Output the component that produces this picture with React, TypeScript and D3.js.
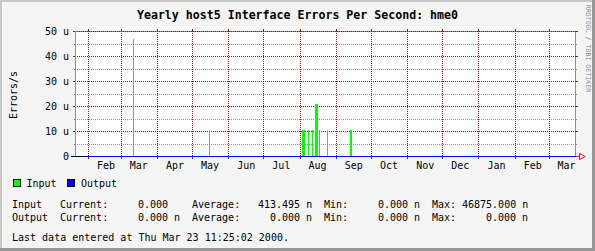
import React from "react";
import * as d3 from "d3";

// ---- data ----
const timeStart = new Date(Date.UTC(1999, 0, 20, 11, 0));
const timeEnd = new Date(Date.UTC(2000, 2, 23, 4, 17));
const dataStart = new Date(Date.UTC(1999, 1, 1));

const inputDates = [
  "1999-03-11", "1999-05-15", "1999-08-03", "1999-08-04", "1999-08-08",
  "1999-08-11", "1999-08-14", "1999-08-15", "1999-08-17", "1999-08-24", "1999-09-13",
];
const inputValues = [
  46.875e-6, 10.4167e-6, 10.4167e-6, 10.4167e-6, 10.4167e-6,
  10.4167e-6, 20.8333e-6, 20.8333e-6, 10.4167e-6, 10.4167e-6, 10.4167e-6,
];
const outputValue = 0;

const yMajorTicks = [0, 10e-6, 20e-6, 30e-6, 40e-6, 50e-6];
const yTickLabels = ["0", "10 u", "20 u", "30 u", "40 u", "50 u"];
const yMinorTicks = [5e-6, 15e-6, 25e-6, 35e-6, 45e-6];

const title = "Yearly host5 Interface Errors Per Second: hme0";
const yAxisTitle = "Errors/s";
const watermark = "RRDTOOL / TOBI OETIKER";
const legendNames = ["Input", "Output"];
const legendColors = ["#00FF00", "#0000FF"];

const statLabels = ["Current:", "Average:", "Min:", "Max:"];
const statCols = [8, 30, 52, 70];
const inputStats = ["0.000", "413.495 n", "0.000 n", "46875.000 n"];
const inputStatCols = [21, 41, 61, 75];
const outputStats = ["0.000 n", "0.000 n", "0.000 n", "0.000 n"];
const outputStatCols = [21, 43, 61, 79];
const lastUpdate = "Last data entered at Thu Mar 23 11:25:02 2000.";

// ---- layout ----
const W = 595;
const H = 251;
const X0 = 75;
const X1 = 575;
const Y0 = 156; // row of zero
const Y1 = 31; // top row
const MONO = "'DejaVu Sans Mono', monospace";
const MGRID = "#821E1E";
const GRID = "#8F8F8F";

export default function App() {
  const x = d3.scaleUtc().domain([timeStart, timeEnd]).range([X0, X1]);
  const y = d3.scaleLinear().domain([0, 50e-6]).range([Y0 + 0.5, Y1 + 0.5]);

  const inputMap = new Map<number, number>();
  inputDates.forEach((d, i) => inputMap.set(d3.utcParse("%Y-%m-%d")(d)!.getTime(), inputValues[i]));

  // per-pixel-column rendering like rrdtool
  const cols = d3.range(X0, X1);
  const bars: { c: number; top: number }[] = [];
  cols.forEach((c) => {
    const t = x.invert(c + 0.5);
    const day = d3.utcDay.floor(t).getTime();
    const v = inputMap.get(day);
    if (v && v > 0) bars.push({ c, top: Math.round(y(v) - 0.5) });
  });

  const months = d3.utcMonth.range(d3.utcMonth.ceil(timeStart), timeEnd);
  const fmt = d3.utcFormat("%b");

  const outDays = d3.utcDay.range(dataStart, timeEnd).concat([timeEnd]);
  const outLine = d3
    .line<Date>()
    .x((d) => x(d))
    .y(() => y(outputValue));

  const rowY = (v: number) => Math.floor(y(v)) + 0.5;

  return (
    <svg
      width={W}
      height={H}
      style={{ position: "absolute", left: 0, top: 0 }}
      fontFamily={MONO}
    >
      <rect x={0} y={0} width={W} height={H} fill="#F5F5F5" />
      {/* 3D border */}
      <rect x={0} y={0} width={W} height={2} fill="#C8C8C8" />
      <rect x={0} y={0} width={2} height={H} fill="#C8C8C8" />
      <rect x={W - 3} y={0} width={3} height={H} fill="#969696" />
      <rect x={0} y={H - 3} width={W} height={3} fill="#969696" />

      {/* canvas */}
      <rect x={X0} y={Y1} width={X1 - X0 + 1} height={Y0 - Y1 + 1} fill="#FFFFFF" />

      <g shapeRendering="crispEdges">
        {/* top + right axis (grid color) */}
        <line x1={X0} x2={X1 + 1} y1={Y1 + 0.5} y2={Y1 + 0.5} stroke={GRID} />
        <line x1={X1 + 0.5} x2={X1 + 0.5} y1={Y1} y2={Y0 + 1} stroke={GRID} />

        {/* minor horizontal grid */}
        {yMinorTicks.map((v) => (
          <g key={"mi" + v}>
            <line x1={X0 - 1} x2={X0} y1={rowY(v)} y2={rowY(v)} stroke={GRID} />
            <line x1={X1 + 1} x2={X1 + 2} y1={rowY(v)} y2={rowY(v)} stroke={GRID} />
            <line x1={X0} x2={X1 + 1} y1={rowY(v)} y2={rowY(v)} stroke={GRID} strokeDasharray="1 1" />
          </g>
        ))}
        {/* major horizontal grid */}
        {yMajorTicks.map((v) => (
          <g key={"ma" + v}>
            <line x1={X0 - 2} x2={X0} y1={rowY(v)} y2={rowY(v)} stroke={MGRID} />
            <line x1={X1 + 1} x2={X1 + 3} y1={rowY(v)} y2={rowY(v)} stroke={MGRID} />
            <line x1={X0} x2={X1 + 1} y1={rowY(v)} y2={rowY(v)} stroke={MGRID} strokeDasharray="1 1" />
          </g>
        ))}
        {/* major vertical grid (months) */}
        {months.map((m) => {
          const cx = Math.floor(x(m)) + 0.5;
          return (
            <g key={"mv" + m.getTime()}>
              <line x1={cx} x2={cx} y1={Y1 - 2} y2={Y1} stroke={MGRID} />
              <line x1={cx} x2={cx} y1={Y0 + 1} y2={Y0 + 3} stroke={MGRID} />
              <line x1={cx} x2={cx} y1={Y1} y2={Y0 + 1} stroke={MGRID} strokeDasharray="1 1" />
            </g>
          );
        })}

        {/* left axis */}
        <line x1={X0 + 0.5} x2={X0 + 0.5} y1={Y1} y2={Y0 + 1} stroke={GRID} />

        {/* input area, per pixel column */}
        {bars.map((b) => (
          <rect key={"b" + b.c} x={b.c} y={b.top} width={1} height={Y0 + 1 - b.top} fill={legendColors[0]} />
        ))}

        {/* x axis */}
        <line x1={X0 - 4} x2={X1 + 1} y1={Y0 + 0.5} y2={Y0 + 0.5} stroke="#000000" />
        <line x1={X1 + 1} x2={X1 + 4} y1={Y0 + 0.5} y2={Y0 + 0.5} stroke="#FF0000" />
        {/* output line */}
        <path d={outLine(outDays) || ""} fill="none" stroke={legendColors[1]} strokeWidth={1} />
      </g>

      {/* arrow */}
      <polygon
        points={`${X1 + 4.5},${Y0 - 2.5} ${X1 + 4.5},${Y0 + 3.5} ${X1 + 10},${Y0 + 0.5}`}
        fill="none"
        stroke="#FF0000"
        strokeWidth={1}
      />

      {/* title */}
      <text x={W / 2} y={18.5} textAnchor="middle" fontSize={11.6} fontWeight="bold" fill="#000">
        {title}
      </text>

      {/* y axis title */}
      <text transform="translate(17,95) rotate(-90)" textAnchor="middle" fontSize={10} fill="#000">
        {yAxisTitle}
      </text>

      {/* watermark */}
      <text transform="translate(585.5,48.5) rotate(90)" textAnchor="middle" fontSize={6.6} fill="#888888">
        {watermark}
      </text>

      {/* y tick labels */}
      {yMajorTicks.map((v, i) => (
        <text key={"yl" + v} x={69} y={rowY(v) + 3.5} textAnchor="end" fontSize={10} fill="#000">
          {yTickLabels[i]}
        </text>
      ))}

      {/* month labels */}
      {months
        .filter((m) => d3.utcDay.offset(m, 15) <= timeEnd)
        .map((m) => (
          <text key={"xl" + m.getTime()} x={x(d3.utcDay.offset(m, 15))} y={169} textAnchor="middle" fontSize={10} fill="#000">
            {fmt(m)}
          </text>
        ))}

      {/* legend */}
      <g shapeRendering="crispEdges">
        <rect x={13.5} y={179.5} width={7} height={7} fill={legendColors[0]} stroke="#000" />
        <rect x={67.5} y={179.5} width={7} height={7} fill={legendColors[1]} stroke="#000" />
      </g>
      <text x={26.5} y={187} fontSize={10} fill="#000">{legendNames[0]}</text>
      <text x={81} y={187} fontSize={10} fill="#000">{legendNames[1]}</text>

      {/* stats */}
      {[
        { name: legendNames[0], vals: inputStats, vcols: inputStatCols, by: 208 },
        { name: legendNames[1], vals: outputStats, vcols: outputStatCols, by: 221 },
      ].map((r) => (
        <g key={r.name} fontSize={10} fill="#000">
          <text x={12} y={r.by}>{r.name}</text>
          {statLabels.map((l, i) => (
            <text key={l} x={12 + statCols[i] * 6} y={r.by}>{l}</text>
          ))}
          {r.vals.map((v, i) => (
            <text key={i} x={12 + r.vcols[i] * 6} y={r.by} style={{ whiteSpace: "pre" }}>{v}</text>
          ))}
        </g>
      ))}

      <text x={12} y={241} fontSize={10} fill="#000">{lastUpdate}</text>
    </svg>
  );
}
